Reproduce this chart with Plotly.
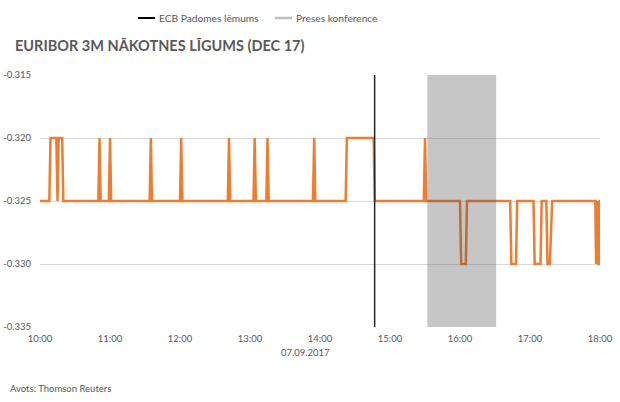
import plotly.graph_objects as go

DAY = "2017-09-07 "

# Euribor 3M futures (Dec 17) price points
times = [
    "10:00", "10:08", "10:09", "10:14", "10:15", "10:16", "10:19", "10:20",
    "10:50", "10:51", "10:52", "10:59", "11:00", "11:01",
    "11:34", "11:35", "11:36", "12:00", "12:01", "12:02",
    "12:41", "12:42", "12:43", "13:03", "13:04", "13:05",
    "13:14", "13:15", "13:16", "13:54", "13:55", "13:56",
    "14:22", "14:23", "14:46", "14:47",
    "15:29", "15:30", "15:31",
    "16:00", "16:01", "16:05", "16:06",
    "16:43", "16:44", "16:48", "16:49",
    "17:03", "17:04", "17:09", "17:10",
    "17:14", "17:15", "17:17", "17:19",
    "17:56:00", "17:56:40", "17:57:10", "17:57:40", "17:58:10", "17:58:40",
    "17:59:10", "17:59:40", "18:00",
]
values = [
    -0.325, -0.325, -0.320, -0.320, -0.325, -0.320, -0.320, -0.325,
    -0.325, -0.320, -0.325, -0.325, -0.320, -0.325,
    -0.325, -0.320, -0.325, -0.325, -0.320, -0.325,
    -0.325, -0.320, -0.325, -0.325, -0.320, -0.325,
    -0.325, -0.320, -0.325, -0.325, -0.320, -0.325,
    -0.325, -0.320, -0.320, -0.325,
    -0.325, -0.320, -0.325,
    -0.325, -0.330, -0.330, -0.325,
    -0.325, -0.330, -0.330, -0.325,
    -0.325, -0.330, -0.330, -0.325,
    -0.325, -0.330, -0.330, -0.325,
    -0.325, -0.330, -0.325, -0.330, -0.325, -0.330,
    -0.330, -0.325, -0.325,
]

ecb_decision_time = "14:46:50"
press_conf_start = "15:32"
press_conf_end = "16:31"

y_tick_vals = [-0.335, -0.330, -0.325, -0.320, -0.315]
y_tick_labels = ["-0.335", "-0.330", "-0.325", "-0.320", "-0.315"]

legend_labels = ["ECB Padomes lēmums", "Preses konference"]
title_text = "EURIBOR 3M NĀKOTNES LĪGUMS (DEC 17)"
date_label = "07.09.2017"
source_text = "Avots: Thomson Reuters"

FONT = "Lato"
TXT = "#595959"

x = [DAY + t for t in times]

fig = go.Figure()
fig.add_trace(go.Scatter(
    x=x, y=values, mode="lines",
    line=dict(color="#ED7D31", width=2.5),
    showlegend=False, hoverinfo="x+y",
))

# plot area geometry helpers (pixels -> paper)
PL, PW, PB, PH = 40, 560, 327, 252
def px(v):
    return (v - PL) / PW
def py(v):
    return (PB - v) / PH

shapes = [
    # press conference band
    dict(type="rect", xref="x", yref="paper",
         x0=DAY + press_conf_start, x1=DAY + press_conf_end, y0=0, y1=1,
         fillcolor="rgba(77,77,77,0.32)", line=dict(width=0), layer="above"),
    # ECB decision line
    dict(type="line", xref="x", yref="paper",
         x0=DAY + ecb_decision_time, x1=DAY + ecb_decision_time, y0=0, y1=1,
         line=dict(color="#262626", width=1.5), layer="above"),
    # legend symbols
    dict(type="line", xref="paper", yref="paper",
         x0=px(138), x1=px(155), y0=py(18), y1=py(18),
         line=dict(color="#000000", width=2)),
    dict(type="line", xref="paper", yref="paper",
         x0=px(275), x1=px(292), y0=py(18), y1=py(18),
         line=dict(color="#BFBFBF", width=2.5)),
]

annotations = [
    dict(text=legend_labels[0], xref="paper", yref="paper", x=px(157), y=py(18),
         xanchor="left", yanchor="middle", showarrow=False,
         font=dict(family=FONT, size=10.2, color=TXT)),
    dict(text=legend_labels[1], xref="paper", yref="paper", x=px(294), y=py(18),
         xanchor="left", yanchor="middle", showarrow=False,
         font=dict(family=FONT, size=10.2, color=TXT)),
    dict(text="<b>" + title_text + "</b>", xref="paper", yref="paper",
         x=px(13), y=py(46), xanchor="left", yanchor="middle", showarrow=False,
         font=dict(family=FONT, size=14.5, color=TXT)),
    dict(text=date_label, xref="paper", yref="paper", x=px(305), y=py(352),
         xanchor="center", yanchor="middle", showarrow=False,
         font=dict(family=FONT, size=9.5, color=TXT)),
    dict(text=source_text, xref="paper", yref="paper", x=px(8), y=py(388),
         xanchor="left", yanchor="middle", showarrow=False,
         font=dict(family=FONT, size=9.5, color=TXT)),
]

fig.update_layout(
    width=620, height=402,
    margin=dict(l=40, r=20, t=75, b=75),
    paper_bgcolor="white", plot_bgcolor="white",
    showlegend=False,
    shapes=shapes, annotations=annotations,
    xaxis=dict(
        type="date", automargin=False,
        range=[DAY + "10:00", DAY + "18:00"],
        dtick=3600000, tick0=DAY + "10:00", tickformat="%H:%M",
        showgrid=False, zeroline=False, showline=False, ticks="",
        ticklabelstandoff=4,
        tickfont=dict(family=FONT, size=9.5, color=TXT),
    ),
    yaxis=dict(
        automargin=False,
        range=[-0.335, -0.315],
        tickvals=y_tick_vals, ticktext=y_tick_labels,
        showgrid=True, gridcolor="#D9D9D9", gridwidth=1,
        zeroline=False, showline=False, ticks="",
        ticklabelstandoff=8,
        tickfont=dict(family=FONT, size=9.5, color=TXT),
    ),
)

fig.write_html("out.html")
